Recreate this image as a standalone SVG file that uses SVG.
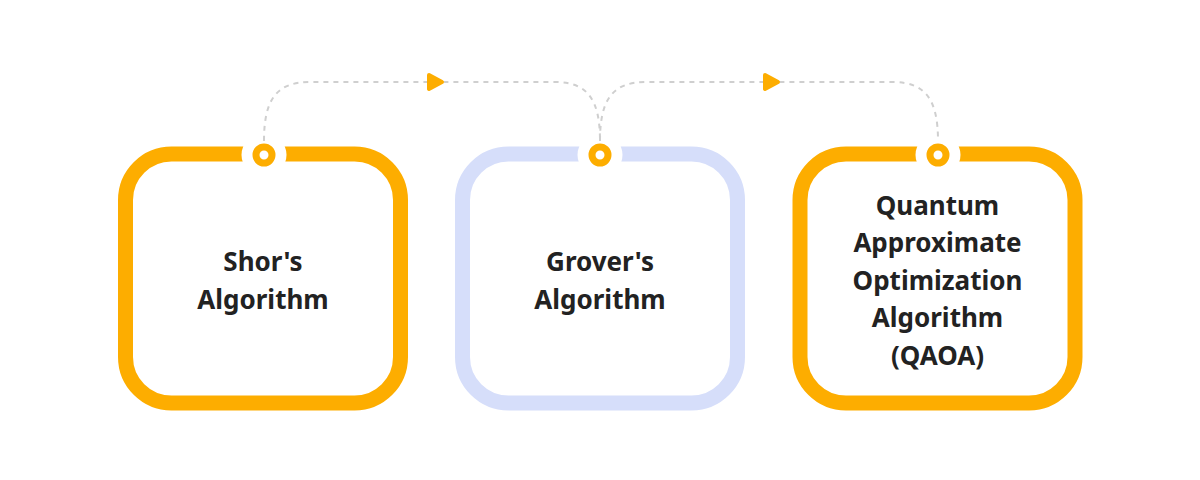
<svg xmlns="http://www.w3.org/2000/svg" width="1200" height="480" viewBox="0 0 1200 480">
  <style>
    .box { fill: #ffffff; stroke-width: 15; }
    .orange { stroke: #FDAD00; }
    .lav { stroke: #D6DEFA; }
    .gap { fill: #ffffff; }
    .port { fill: #ffffff; stroke: #FDAD00; stroke-width: 7; }
    .label { font-family: "Noto Sans", "Open Sans", sans-serif; font-weight: 700; font-size: 26px; fill: #222222; text-anchor: middle; }
    .conn { fill: none; stroke: #CFCFCF; stroke-width: 2; stroke-dasharray: 5 5; }
    .arrow { fill: #FDAD00; stroke: #FDAD00; stroke-width: 4; stroke-linejoin: round; }
  </style>
  <rect width="1200" height="480" fill="#ffffff"/>
  <g id="node-shor">
    <rect class="box orange" x="125.5" y="154" width="275" height="249" rx="46"/>
    <circle class="gap" cx="264" cy="155" r="22.5"/>
    <circle class="port" cx="264" cy="155" r="8"/>
    <text class="label" x="263" y="271">Shor's</text>
    <text class="label" x="263" y="308.6">Algorithm</text>
  </g>
  <g id="node-grover">
    <rect class="box lav" x="462.5" y="154" width="275" height="249" rx="46"/>
    <circle class="gap" cx="600" cy="155" r="22.5"/>
    <circle class="port" cx="600" cy="155" r="8"/>
    <text class="label" x="600" y="271">Grover's</text>
    <text class="label" x="600" y="308.6">Algorithm</text>
  </g>
  <g id="node-qaoa">
    <rect class="box orange" x="800" y="154" width="275" height="249" rx="46"/>
    <circle class="gap" cx="938" cy="155" r="22.5"/>
    <circle class="port" cx="938" cy="155" r="8"/>
    <text class="label" x="937.5" y="214.5">Quantum</text>
    <text class="label" x="937.5" y="252.1">Approximate</text>
    <text class="label" x="937.5" y="289.7">Optimization</text>
    <text class="label" x="937.5" y="327.3">Algorithm</text>
    <text class="label" x="937.5" y="364.9">(QAOA)</text>
  </g>
  <g id="connectors">
    <path class="conn" d="M264,141 C264,100 276,82 310,82 L555,82 C588,82 600,100 600,141"/>
    <path class="conn" d="M600,141 C600,100 612,82 646,82 L892,82 C926,82 938,100 938,141"/>
    <path class="arrow" d="M429,75 L442,82 L429,89 Z"/>
    <path class="arrow" d="M765,75 L778,82 L765,89 Z"/>
  </g>
</svg>
